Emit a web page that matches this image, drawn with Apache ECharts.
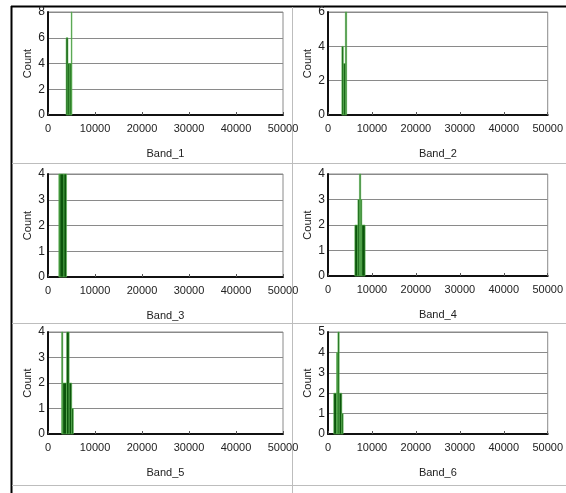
<!DOCTYPE html>
<html>
<head>
<meta charset="utf-8">
<script src="https://cdn.jsdelivr.net/npm/echarts@6/dist/echarts.min.js"></script>
<style>
  html, body { margin: 0; padding: 0; background: #fff; }
  #chart { width: 566px; height: 493px; }
</style>
</head>
<body>
<div id="chart"></div>
<script>
// histogram bins: [start, end, count]
var band1 = [[3850, 4250, 6], [4250, 4650, 4], [4650, 4950, 4], [4950, 5100, 8]];
var band2 = [[3150, 3500, 4], [3500, 3950, 3], [3950, 4250, 6]];
var band3 = [[2300, 2550, 4], [2550, 3400, 4], [3400, 3950, 4]];
var band4 = [[6100, 6800, 2], [6800, 7150, 3], [7150, 7450, 4], [7450, 7700, 3], [7700, 8450, 2]];
var band5 = [[2900, 3150, 4], [3150, 3950, 2], [3950, 4500, 4], [4500, 5050, 2], [5050, 5400, 1]];
var band6 = [[1300, 1950, 2], [1950, 2250, 4], [2250, 2550, 5], [2550, 3150, 2], [3150, 3450, 1]];

var bandNames = ['Band_1', 'Band_2', 'Band_3', 'Band_4', 'Band_5', 'Band_6'];
var bandData = [band1, band2, band3, band4, band5, band6];
var yMaxes = [8, 6, 4, 4, 4, 5];
var yIntervals = [2, 2, 1, 1, 1, 1];
var xMax = 50000;
var xInterval = 10000;

var gridPos = [
    { left: 48, top: 12, width: 235, height: 103 },
    { left: 328, top: 12, width: 235, height: 103 },
    { left: 48, top: 174, width: 235, height: 103 },
    { left: 328, top: 174, width: 235, height: 102 },
    { left: 48, top: 332, width: 235, height: 102 },
    { left: 328, top: 332, width: 235, height: 102 }
];

var font = 'Liberation Sans Narrow, Liberation Sans, Arial, sans-serif';

function renderBin(params, api) {
    var p0 = api.coord([api.value(0), api.value(2)]);
    var p1 = api.coord([api.value(1), 0]);
    return {
        type: 'rect',
        shape: { x: p0[0], y: p0[1], width: p1[0] - p0[0], height: p1[1] - p0[1] },
        style: { fill: '#0c550c', stroke: 'rgba(100,190,90,0.6)', lineWidth: 1 }
    };
}

var grids = [], xAxes = [], yAxes = [], series = [];
for (var i = 0; i < 6; i++) {
    grids.push({
        left: gridPos[i].left, top: gridPos[i].top,
        width: gridPos[i].width, height: gridPos[i].height,
        show: true, borderColor: '#8a8a8a', borderWidth: 1
    });
    xAxes.push({
        type: 'value', gridIndex: i, min: 0, max: xMax, interval: xInterval,
        name: bandNames[i], nameLocation: 'middle', nameGap: 33,
        nameTextStyle: { fontFamily: font, fontSize: 11, color: '#222' },
        axisLine: { show: true, lineStyle: { color: '#111', width: 2 } },
        axisTick: { show: true, inside: true, length: 3, lineStyle: { color: '#555' } },
        axisLabel: {
            fontFamily: font, fontSize: 11, color: '#222', margin: 8, showMaxLabel: true,
            formatter: function (v) { return String(v); }
        },
        splitLine: { show: false }
    });
    yAxes.push({
        type: 'value', gridIndex: i, min: 0, max: yMaxes[i], interval: yIntervals[i],
        name: 'Count', nameLocation: 'middle', nameGap: 15,
        nameTextStyle: { fontFamily: font, fontSize: 11, color: '#222' },
        axisLine: { show: true, lineStyle: { color: '#111', width: 2 } },
        axisTick: { show: false },
        axisLabel: { fontFamily: font, fontSize: 12, color: '#222', margin: 3 },
        splitLine: { show: true, lineStyle: { color: '#8a8a8a', width: 1 } }
    });
    series.push({
        type: 'custom', xAxisIndex: i, yAxisIndex: i,
        renderItem: renderBin,
        encode: { x: [0, 1], y: 2 },
        data: bandData[i]
    });
}

var chart = echarts.init(document.getElementById('chart'));
chart.setOption({
    animation: false,
    backgroundColor: '#fff',
    grid: grids,
    xAxis: xAxes,
    yAxis: yAxes,
    series: series,
    graphic: [
        { type: 'line', shape: { x1: 11, y1: 6.5, x2: 566, y2: 6.5 }, style: { stroke: '#000', lineWidth: 2 } },
        { type: 'line', shape: { x1: 11.5, y1: 6, x2: 11.5, y2: 493 }, style: { stroke: '#000', lineWidth: 2 } },
        { type: 'line', shape: { x1: 292.5, y1: 7, x2: 292.5, y2: 493 }, style: { stroke: '#bdbdbd', lineWidth: 1 } },
        { type: 'line', shape: { x1: 12, y1: 163.5, x2: 566, y2: 163.5 }, style: { stroke: '#bdbdbd', lineWidth: 1 } },
        { type: 'line', shape: { x1: 12, y1: 323.5, x2: 566, y2: 323.5 }, style: { stroke: '#bdbdbd', lineWidth: 1 } },
        { type: 'line', shape: { x1: 12, y1: 485.5, x2: 566, y2: 485.5 }, style: { stroke: '#bdbdbd', lineWidth: 1 } }
    ]
});
</script>
</body>
</html>
